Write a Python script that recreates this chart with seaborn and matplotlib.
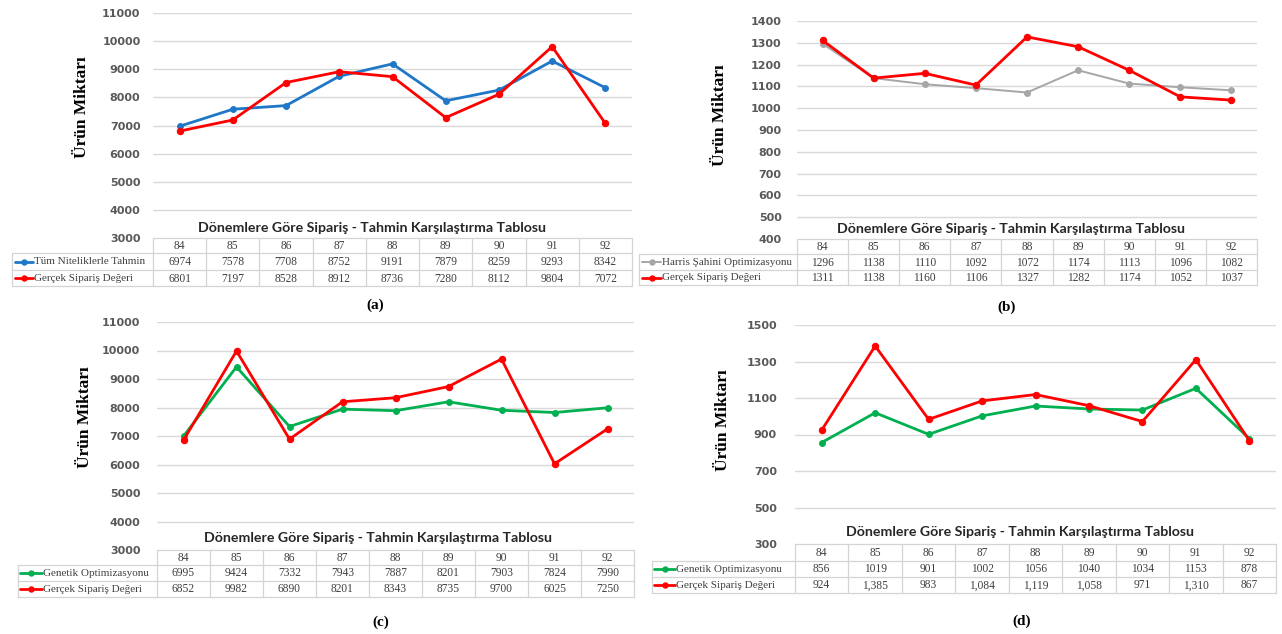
import numpy as np
import matplotlib
matplotlib.use("Agg")
import matplotlib.pyplot as plt
import seaborn as sns

W, H = 1282, 634

# ---- data -------------------------------------------------------------
periods = [84, 85, 86, 87, 88, 89, 90, 91, 92]

title_text = "Dönemlere Göre Sipariş - Tahmin Karşılaştırma Tablosu"
ylabel_text = "Ürün Miktarı"
actual_label = "Gerçek Sipariş Değeri"

a_label = "Tüm Niteliklerle Tahmin"
a_model = [6974, 7578, 7708, 8752, 9191, 7879, 8259, 9293, 8342]
a_actual = [6801, 7197, 8528, 8912, 8736, 7280, 8112, 9804, 7072]
a_ticks = [3000, 4000, 5000, 6000, 7000, 8000, 9000, 10000, 11000]

b_label = "Harris Şahini Optimizasyonu"
b_model = [1296, 1138, 1110, 1092, 1072, 1174, 1113, 1096, 1082]
b_actual = [1311, 1138, 1160, 1106, 1327, 1282, 1174, 1052, 1037]
b_ticks = [400, 500, 600, 700, 800, 900, 1000, 1100, 1200, 1300, 1400]

c_label = "Genetik Optimizasyonu"
c_model = [6995, 9424, 7332, 7943, 7887, 8201, 7903, 7824, 7990]
c_actual = [6852, 9982, 6890, 8201, 8343, 8735, 9700, 6025, 7250]
c_ticks = [3000, 4000, 5000, 6000, 7000, 8000, 9000, 10000, 11000]

d_label = "Genetik Optimizasyonu"
d_model = [856, 1019, 901, 1002, 1056, 1040, 1034, 1153, 878]
d_actual = [924, 1385, 983, 1084, 1119, 1058, 971, 1310, 867]
d_ticks = [300, 500, 700, 900, 1100, 1300, 1500]

BLUE = "#1F77C8"
RED = "#FF0000"
GRAY = "#A6A6A6"
GREEN = "#00B050"
GRID = "#D9D9D9"
BORDER = "#D4D4D4"

sns.set_theme(style="white")
plt.rcParams["font.family"] = ["DejaVu Sans"]

fig = plt.figure(figsize=(W / 100, H / 100), dpi=100)


def box(x0, y0, x1, y1):
    return [x0 / W, 1 - y1 / H, (x1 - x0) / W, (y1 - y0) / H]


def draw_panel(g, model_label, model, actual, ticks, model_color, model_lw,
               actual_fmt, caption):
    dl, dr = g["data"]
    ytop, ybot = g["yrange"]
    rows = g["rows"]
    pos = np.arange(len(periods))

    ax = fig.add_axes(box(dl, ytop, dr, ybot))
    ax.patch.set_alpha(0)
    for t in ticks[1:]:
        ax.axhline(t, color=GRID, lw=1.0, zorder=0)
    sns.lineplot(x=pos, y=model, ax=ax, color=model_color, lw=model_lw,
                 marker="o", markersize=4.2, markeredgecolor=model_color,
                 legend=False, zorder=3)
    sns.lineplot(x=pos, y=actual, ax=ax, color=RED, lw=2.0,
                 marker="o", markersize=4.6, markeredgecolor=RED,
                 legend=False, zorder=4)
    ax.set_xlim(-0.5, len(periods) - 0.5)
    ax.set_ylim(ticks[0], ticks[-1])
    ax.set_yticks(ticks)
    ax.set_xticks([])
    ax.set_xlabel("")
    ax.set_ylabel("")
    for s in ax.spines.values():
        s.set_visible(False)
    ax.tick_params(axis="y", length=0, pad=g["pad"], labelsize=8.0,
                   labelcolor="#595959")
    for lab in ax.get_yticklabels():
        lab.set_fontweight("semibold")

    # data table under the plot
    n = len(periods)
    cw = (dr - dl) / n
    ll = g["label_left"]
    lw_cols = (dl - ll) / cw
    x_left = -0.5 - lw_cols
    tb = fig.add_axes(box(ll, rows[0], dr, rows[3]))
    tb.set_xlim(x_left, n - 0.5)
    tb.set_ylim(rows[3], rows[0])
    tb.axis("off")
    kw = dict(color=BORDER, lw=0.9, clip_on=False)
    tb.plot([-0.5, n - 0.5], [rows[0], rows[0]], **kw)
    for r in rows[1:]:
        tb.plot([x_left, n - 0.5], [r, r], **kw)
    for i in range(n + 1):
        tb.plot([i - 0.5, i - 0.5], [rows[0], rows[3]], **kw)
    tb.plot([x_left, x_left], [rows[1], rows[3]], **kw)

    tfont = dict(family="Liberation Serif", fontsize=8.3, color="#404040",
                 ha="center", va="center")
    yh = (rows[0] + rows[1]) / 2
    y1 = (rows[1] + rows[2]) / 2
    y2 = (rows[2] + rows[3]) / 2
    for i, p in enumerate(periods):
        tb.text(i, yh + 0.5, str(p), **tfont)
        tb.text(i, y1 + 0.5, str(model[i]), **tfont)
        tb.text(i, y2 + 0.5, actual_fmt(actual[i]), **tfont)

    k0 = x_left + g["key"][0] / cw
    k1 = x_left + g["key"][1] / cw
    for yy, col, lwk in ((y1, model_color, model_lw), (y2, RED, 2.0)):
        tb.plot([k0, k1], [yy, yy], color=col, lw=lwk, clip_on=False)
        tb.plot([(k0 + k1) / 2], [yy], "o", color=col, markersize=3.6,
                clip_on=False)
    lfont = dict(family="Liberation Serif", fontsize=8.0, color="#404040",
                 ha="left", va="center")
    tb.text(k1 + 0.02, y1 + 0.5, model_label, **lfont)
    tb.text(k1 + 0.02, y2 + 0.5, actual_label, **lfont)

    # titles and labels
    tx, ty = g["title"]
    fig.text(tx / W, 1 - ty / H, title_text, family="Lato", weight="bold",
             fontsize=10.2, color="#262626", ha="center", va="center")
    yx, yy = g["ylabel"]
    fig.text(yx / W, 1 - yy / H, ylabel_text, family="Liberation Serif",
             weight="bold", fontsize=12.5, color="black", rotation=90,
             ha="center", va="center")
    cx, cy = g["caption"]
    fig.text(cx / W, 1 - cy / H, caption, family="Liberation Serif",
             weight="bold", fontsize=11, color="black", ha="center",
             va="center")


plain = str


def comma(v):
    return f"{v:,}"


geom_a = dict(data=(153, 632), yrange=(13, 238), rows=(238, 253, 270, 286),
              label_left=12, pad=9, key=(3, 21), title=(372, 228),
              ylabel=(82, 107), caption=(375, 305))
geom_b = dict(data=(797, 1257), yrange=(21, 239), rows=(239, 254, 270, 285),
              label_left=639, pad=11, key=(3, 22), title=(1011, 229),
              ylabel=(720, 115), caption=(1007, 307))
geom_c = dict(data=(157, 634), yrange=(322, 550), rows=(550, 565, 581, 597),
              label_left=18, pad=12, key=(2, 24), title=(378, 538),
              ylabel=(85, 417), caption=(381, 622))
geom_d = dict(data=(795, 1276), yrange=(325, 544), rows=(544, 561, 577, 593),
              label_left=652, pad=13, key=(2, 23), title=(1020, 532),
              ylabel=(723, 420), caption=(1022, 621))

draw_panel(geom_a, a_label, a_model, a_actual, a_ticks, BLUE, 2.0, plain, "(a)")
draw_panel(geom_b, b_label, b_model, b_actual, b_ticks, GRAY, 1.4, plain, "(b)")
draw_panel(geom_c, c_label, c_model, c_actual, c_ticks, GREEN, 2.0, plain, "(c)")
draw_panel(geom_d, d_label, d_model, d_actual, d_ticks, GREEN, 2.0, comma, "(d)")

fig.savefig("out.png", dpi=100, facecolor="white")
